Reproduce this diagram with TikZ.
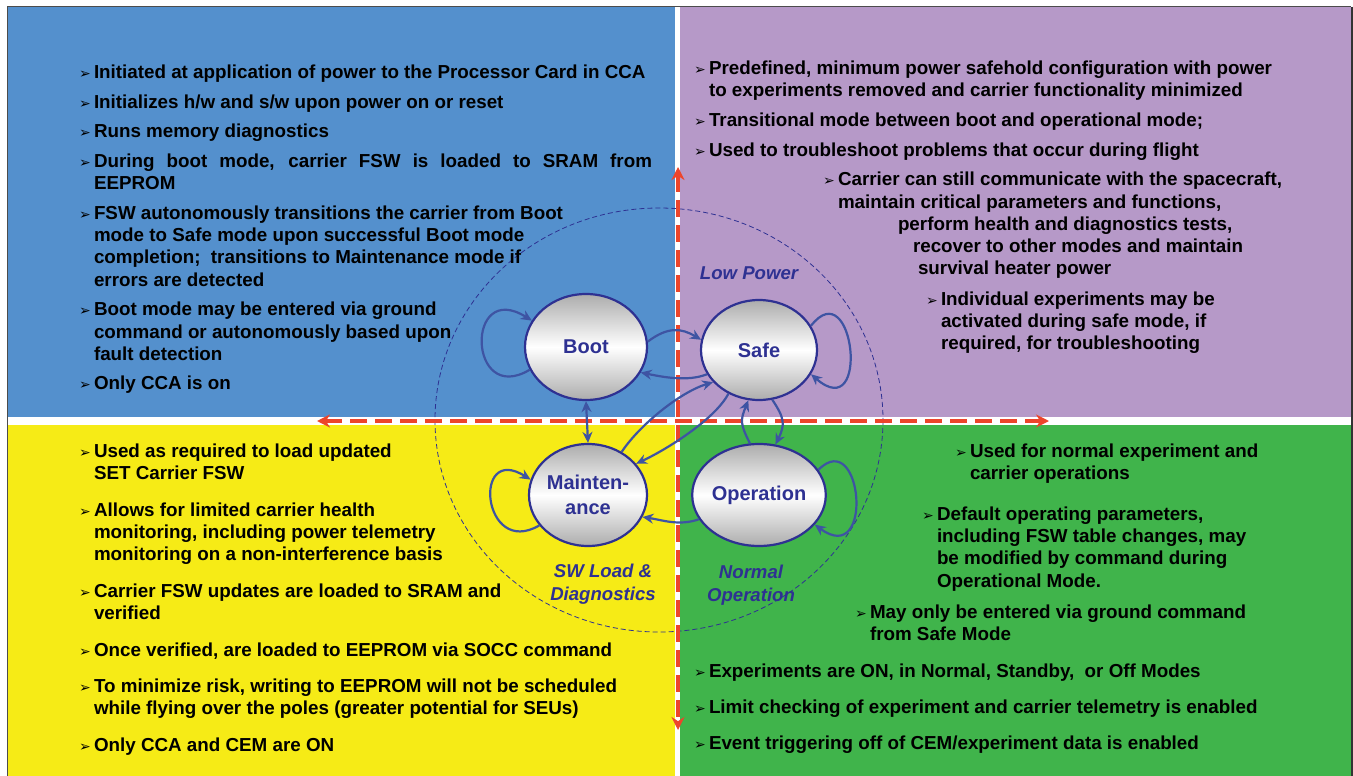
\documentclass[tikz,border=0pt]{standalone}
\usepackage{fontspec}
\setmainfont{Liberation Sans}
\newfontfamily\dingfont{DejaVu Sans}
\usetikzlibrary{shapes.geometric,positioning,arrows.meta}
\definecolor{bootblue}{RGB}{84,144,205}
\definecolor{safepurple}{RGB}{182,153,200}
\definecolor{maintyellow}{RGB}{246,235,22}
\definecolor{opgreen}{RGB}{64,180,75}
\definecolor{navy}{RGB}{46,49,146}
\definecolor{linkblue}{RGB}{62,84,163}
\definecolor{axisred}{RGB}{237,69,43}
\newcommand{\blt}{\strut\makebox[15pt][l]{\dingfont\fontsize{14}{14}\selectfont ➢}}
\newcommand{\ind}{\strut\hspace*{15pt}}

\begin{document}
\begin{tikzpicture}[x=1pt, y=-1pt,
  item/.style={font=\bfseries\fontsize{18.8}{22.2}\selectfont, align=left, inner sep=0pt, outer sep=0pt},
  state/.style={ellipse, draw=navy, line width=2.2pt, top color=gray!65, bottom color=gray!65, middle color=white, text=navy, font=\bfseries\fontsize{20}{25}\selectfont, align=center, inner sep=0pt},
  tag/.style={font=\bfseries\itshape\fontsize{18.6}{23}\selectfont, text=navy, align=center, inner sep=0pt},
  link/.style={draw=linkblue, line width=2.2pt, -{Stealth[length=11pt,width=10pt]}},
  axis/.style={draw=axisred, line width=3.6pt, dash pattern=on 17pt off 8pt, {Stealth[length=13pt,width=13pt]}-{Stealth[length=13pt,width=13pt]}}]

\useasboundingbox (0,0) rectangle (1353,776);
\fill[white] (0,0) rectangle (1353,776);

% QUADRANTS

\fill[bootblue] (7,7) rectangle (675,417);
\fill[safepurple] (680,7) rectangle (1351,417);
\fill[maintyellow] (7,425) rectangle (675,776);
\fill[opgreen] (680,425) rectangle (1351,776);
\draw[black!70, line width=1pt] (7,776) -- (7,7) -- (1351,7);
\draw[black!80, line width=2pt] (1352,7) -- (1352,776);

% MODE RING AND AXES

\draw[navy, line width=0.8pt, dash pattern=on 5pt off 3pt] (659,420) ellipse [x radius=224, y radius=212];

\coordinate (axtop) at (678,167);
\coordinate (axbottom) at (678,730);
\coordinate (axleft) at (317,421);
\coordinate (axright) at (1049,421);
\draw[axis] (axtop) -- (axbottom);
\draw[axis] (axleft) -- (axright);

% STATES

\node[state, minimum width=122pt, minimum height=106pt] (boot) at (586,347) {Boot};
\node[state, minimum width=116pt, minimum height=100pt] (safe) at (759,350) {Safe};
\node[state, minimum width=118pt, minimum height=102pt] (maint) at (588,495) {Mainten-\\ance};
\node[state, minimum width=116pt, minimum height=102pt] (oper) at (759,495) {Operation};

\node[tag, above=19pt of safe.north, xshift=-10pt] (lowpower) {Low Power};
\node[tag, below=17pt of maint.south, xshift=15pt] (swload) {SW Load \&\\Diagnostics};
\node[tag, below=18pt of oper.south, xshift=-8pt] (normalop) {Normal\\Operation};

% TRANSITIONS

\draw[link] (boot.202) .. controls +(-62,37) and +(-67,-42) .. (boot.154);
\draw[link] (safe.25) .. controls +(43,-55) and +(60,52) .. (safe.335);
\draw[link] (maint.212) .. controls +(-57,33) and +(-59,-37) .. (maint.165);
\draw[link] (oper.23) .. controls +(44,-44) and +(60,44) .. (oper.332);

\draw[link] (boot.5) .. controls +(20,-15) and +(-20,-12) .. (safe.170);
\draw[link] (safe.205) .. controls +(-20,8) and +(20,4) .. (boot.335);
\draw[link] (maint.52) .. controls +(18,-27) and +(-33,10) .. (safe.215);
\draw[link] (safe.235) .. controls +(-13,25) and +(32,-15) .. (maint.33);
\draw[link, {Stealth[length=11pt,width=10pt]}-{Stealth[length=11pt,width=10pt]}] (boot.south) -- (maint.north);
\draw[link] (oper.100) .. controls +(-10,-20) and +(-8,20) .. (safe.258);
\draw[link] (safe.285) .. controls +(12,18) and +(10,-20) .. (oper.72);
\draw[link] (oper.202) .. controls +(-20,7) and +(20,3) .. (maint.338);

% BOOT MODE

\node[item, anchor=north west] (tl1) at (79,63) {\blt Initiated at application of power to the Processor Card in CCA};
\node[item, below=7.5pt of tl1.south west, anchor=north west] (tl2) {\blt Initializes h/w and s/w upon power on or reset};
\node[item, below=7.5pt of tl2.south west, anchor=north west] (tl3) {\blt Runs memory diagnostics};
\node[item, below=7.5pt of tl3.south west, anchor=north west] (tl4) {\blt \makebox[558pt][s]{During boot mode, carrier FSW is loaded to SRAM from}\\ \ind EEPROM};
\node[item, below=7.5pt of tl4.south west, anchor=north west] (tl5) {\blt FSW autonomously transitions the carrier from Boot\\ \ind mode to Safe mode upon successful Boot mode\\ \ind completion;\ \ transitions to Maintenance mode if\\ \ind errors are detected};
\node[item, below=7.5pt of tl5.south west, anchor=north west] (tl6) {\blt Boot mode may be entered via ground\\ \ind command or autonomously based upon\\ \ind fault detection};
\node[item, below=7.5pt of tl6.south west, anchor=north west] (tl7) {\blt Only CCA is on};

% SAFE MODE

\node[item, anchor=north west] (tr1) at (694,59) {\blt Predefined, minimum power safehold configuration with power\\ \ind to experiments removed and carrier functionality minimized};
\node[item, below=7.5pt of tr1.south west, anchor=north west] (tr2) {\blt Transitional mode between boot and operational mode;};
\node[item, below=7.5pt of tr2.south west, anchor=north west] (tr3) {\blt Used to troubleshoot problems that occur during flight};
\node[item, below=7.5pt of tr3.south west, anchor=north west, xshift=129pt] (tr4) {\blt Carrier can still communicate with the spacecraft,\\ \ind maintain critical parameters and functions,\\ \ind\hspace*{60pt}perform health and diagnostics tests,\\ \ind\hspace*{75pt}recover to other modes and maintain\\ \ind\hspace*{80pt}survival heater power};
\node[item, below=8.5pt of tr4.south west, anchor=north west, xshift=103pt] (tr5) {\blt Individual experiments may be\\ \ind activated during safe mode, if\\ \ind required, for troubleshooting};

% MAINTENANCE MODE

\node[item, anchor=north west] (bl1) at (79,442) {\blt Used as required to load updated\\ \ind SET Carrier FSW};
\node[item, below=14.4pt of bl1.south west, anchor=north west] (bl2) {\blt Allows for limited carrier health\\ \ind monitoring, including power telemetry\\ \ind monitoring on a non-interference basis};
\node[item, below=14.4pt of bl2.south west, anchor=north west] (bl3) {\blt Carrier FSW updates are loaded to SRAM and\\ \ind verified};
\node[item, below=14.4pt of bl3.south west, anchor=north west] (bl4) {\blt Once verified, are loaded to EEPROM via SOCC command};
\node[item, below=14.4pt of bl4.south west, anchor=north west] (bl5) {\blt To minimize risk, writing to EEPROM will not be scheduled\\ \ind while flying over the poles (greater potential for SEUs)};
\node[item, below=14.4pt of bl5.south west, anchor=north west] (bl6) {\blt Only CCA and CEM are ON};

% OPERATION MODE

\node[item, anchor=north west] (br1) at (955,442) {\blt Used for normal experiment and\\ \ind carrier operations};
\node[item, below=18.6pt of br1.south west, anchor=north west, xshift=-33pt] (br2) {\blt Default operating parameters,\\ \ind including FSW table changes, may\\ \ind be modified by command during\\ \ind Operational Mode.};
\node[item, below=9.4pt of br2.south west, anchor=north west, xshift=-67pt] (br3) {\blt May only be entered via ground command\\ \ind from Safe Mode};
\node[item, below=14.6pt of br3.south west, anchor=north west, xshift=-161pt] (br4) {\blt Experiments are ON, in Normal, Standby,\ \ or Off Modes};
\node[item, below=13.6pt of br4.south west, anchor=north west] (br5) {\blt Limit checking of experiment and carrier telemetry is enabled};
\node[item, below=13.6pt of br5.south west, anchor=north west] (br6) {\blt Event triggering off of CEM/experiment data is enabled};

\end{tikzpicture}
\end{document}
